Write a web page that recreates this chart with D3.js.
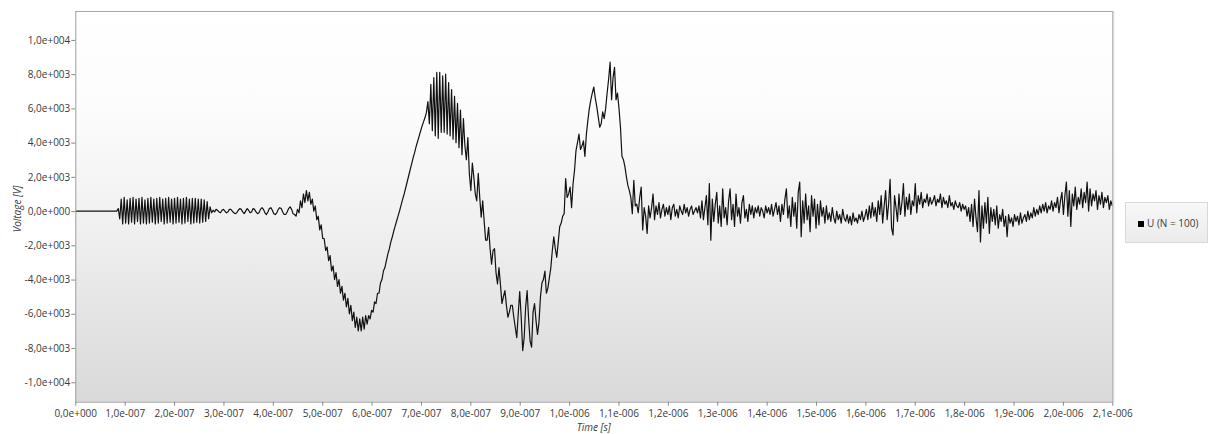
<!DOCTYPE html>
<html><head><meta charset="utf-8">
<script src="https://cdn.jsdelivr.net/npm/d3@7"></script>
<style>
body{margin:0;background:#fff;}
svg{display:block;}
text{font-family:"Open Sans",sans-serif;}
</style>
</head><body>
<svg id="chart" width="1210" height="434"></svg>
<script>
// ---- data ----
const timeStep = 3e-9;          // seconds between samples
const seriesName = "U (N = 100)";
const xTickValues = [0,1e-7,2e-7,3e-7,4e-7,5e-7,6e-7,7e-7,8e-7,9e-7,1e-6,1.1e-6,1.2e-6,1.3e-6,1.4e-6,1.5e-6,1.6e-6,1.7e-6,1.8e-6,1.9e-6,2e-6,2.1e-6];
const yTickValues = [-1e4,-8e3,-6e3,-4e3,-2e3,0,2e3,4e3,6e3,8e3,1e4];
const voltage = [
// 0-28 flat
0,0,0,0,0,0,0,0,0,0,0,0,0,0,0,0,0,0,0,0,0,0,0,0,0,0,0,0,0,
// 29-91 burst
150,-450,700,-750,800,-700,650,-750,750,-650,
800,-750,700,-600,750,-750,800,-700,650,-750,
750,-700,800,-650,700,-750,750,-700,800,-600,
700,-750,750,-700,800,-650,700,-750,750,-700,
800,-650,700,-750,750,-700,800,-600,700,-750,
750,-700,750,-650,700,-700,700,-650,650,-600,
550,-450,250,
// 92-147 small wiggle
-100,50,-50,100,50,-50,-100,50,100,0,
-100,-50,100,100,0,-100,-150,-100,50,150,
100,-50,-150,0,150,50,-100,-50,150,100,
-50,-150,-100,100,200,100,-100,-200,-50,150,
200,50,-150,-200,-100,100,200,150,-50,-200,
-200,-50,150,250,100,-150,
// 148-236 bump, first trough, rise
-200,-300,100,-100,600,200,1000,500,1200,600,
1100,400,700,0,300,-500,-300,-1100,-800,-1600,
-1600,-2300,-2100,-2900,-2600,-3500,-3200,-4000,-3600,-4400,
-4000,-4800,-4400,-5200,-4800,-5600,-5100,-6000,-5500,-6400,
-5900,-6800,-6200,-7000,-6300,-7000,-6200,-6900,-6100,-6600,
-6100,-6300,-5800,-5900,-5300,-5400,-4800,-4800,-4200,-4000,
-3500,-3300,-2900,-2500,-2200,-1800,-1500,-1150,-850,-550,
-250,50,380,700,1000,1350,1700,2050,2400,2750,
3100,3400,3750,4050,4350,4650,4950,5200,5450,
// 237-258 first peak
5750,6400,5100,7400,4700,7800,4400,8100,4250,8100,
4600,7900,4600,8000,4500,7500,4400,7100,4200,6700,
4000,6300,
// 259-330 descent, second trough, rise
3700,5900,3300,5400,3800,3000,4300,2200,1200,2800,
2000,1000,600,2200,800,-350,600,-600,-1700,-1700,
-950,-2200,-3100,-2300,-2200,-3600,-4250,-3300,-4300,-5400,
-5000,-4650,-5500,-6200,-5900,-5500,-5500,-6200,-6800,-7400,
-6000,-4700,-6200,-8150,-7400,-5600,-4650,-6300,-7600,-7950,
-5900,-5400,-6400,-7200,-6500,-5000,-4200,-4000,-3500,-4800,
-4500,-3900,-3300,-2300,-1500,-2200,-2700,-1800,-900,-700,
-300,-150,
// 331-377 second peak and drop
1900,800,1000,1400,200,1600,2400,3550,4000,4500,
3600,3800,4100,3200,4500,5300,6000,6500,6900,7250,
6600,6100,5500,4900,5100,5800,5400,6000,6900,7700,
8700,6500,7800,8400,6500,6900,6000,4900,3200,3000,
2600,2000,1500,1200,800,-150,1800,
// 378-700 tail noise
300,400,-100,800,1400,-1100,200,-300,-1300,300,-400,200,1000,-500,300,-200,500,-400,100,400,-300,200,
-200,300,-500,200,400,-300,100,-400,300,0,-200,400,-100,200,-300,100,300,-200,0,200,-100,
300,-400,600,-500,200,900,-800,1600,-1700,700,-600,400,1100,-700,300,-900,1300,-400,200,-800,
600,1300,-500,400,-900,1000,-300,200,-700,500,900,-400,100,-600,400,-200,300,-400,200,-100,
300,-300,200,0,-400,300,-100,200,-200,400,-300,100,500,-200,300,-600,400,-200,700,1300,
-400,300,-900,800,-300,500,-1000,1100,1700,-1500,600,-700,1000,-500,300,-1200,900,-300,700,-1000,
400,-800,600,-300,200,-700,300,-500,-100,-600,200,-400,-700,0,-500,-200,-700,100,-400,-600,
-200,-700,-300,-800,-100,-600,-400,-700,-200,-500,0,-600,-300,100,-500,300,-400,500,-300,200,
-600,600,-200,900,-700,300,1200,-500,400,1850,-1000,-1400,900,200,-600,1000,-200,500,1600,-300,
800,100,1000,-200,600,300,1600,-100,900,400,1100,200,700,500,1000,300,800,400,600,900,
300,700,500,1000,200,800,400,600,200,900,300,500,100,600,300,200,500,0,400,100,
300,-300,200,-600,400,-900,700,-400,-1200,1200,-1800,300,-1000,500,-700,800,-1300,200,-600,100,
-800,300,-1000,-200,-600,100,-900,-300,-1500,-200,-700,-400,-900,-200,-600,-300,-800,-100,-700,-400,
-200,-600,0,-500,-100,-400,200,-300,100,-200,300,-100,400,0,500,-100,300,100,600,0,
500,200,800,-100,600,1100,-200,900,1700,-300,1200,-900,1000,300,1400,100,800,400,1300,200,
1100,500,1700,0,1300,300,1000,600,1200,100,900,400,1100,200,800,500,900,100,600,300
];

// ---- chart ----
const svg = d3.select("#chart");
const plot = {left:75.3, right:1112.3, top:11, bottom:401.7};

const x = d3.scaleLinear().domain([0, 2.1e-6]).range([plot.left, plot.right]);
const y = d3.scaleLinear().domain([-11136, 11690]).range([plot.bottom, plot.top]);

function sci(v){
  if (Math.abs(v) < 1e-20) return "0,0e+000";
  const s = v.toExponential(1);
  const [m, e] = s.split("e");
  const en = parseInt(e, 10);
  return m.replace(".", ",") + "e" + (en < 0 ? "-" : "+") + String(Math.abs(en)).padStart(3, "0");
}

const defs = svg.append("defs");
const bg = defs.append("linearGradient").attr("id","bg").attr("x1",0).attr("y1",0).attr("x2",0).attr("y2",1);
bg.append("stop").attr("offset","0%").attr("stop-color","#ffffff");
bg.append("stop").attr("offset","25%").attr("stop-color","#fcfcfc");
bg.append("stop").attr("offset","55%").attr("stop-color","#f0f0f0");
bg.append("stop").attr("offset","100%").attr("stop-color","#d9d9d9");
const lg = defs.append("linearGradient").attr("id","lg").attr("x1",0).attr("y1",0).attr("x2",0).attr("y2",1);
lg.append("stop").attr("offset","0%").attr("stop-color","#f8f8f8");
lg.append("stop").attr("offset","100%").attr("stop-color","#ebebeb");
defs.append("clipPath").attr("id","clip").append("rect")
  .attr("x",plot.left).attr("y",plot.top).attr("width",plot.right-plot.left).attr("height",plot.bottom-plot.top);

// plot background
svg.append("rect")
  .attr("x",plot.left).attr("y",plot.top)
  .attr("width",plot.right-plot.left).attr("height",plot.bottom-plot.top)
  .attr("fill","url(#bg)");
// borders
svg.append("line").attr("x1",plot.left).attr("x2",plot.right).attr("y1",plot.top+0.5).attr("y2",plot.top+0.5).attr("stroke","#a8a8a8");
svg.append("line").attr("x1",plot.right+0.5).attr("x2",plot.right+0.5).attr("y1",plot.top).attr("y2",plot.bottom).attr("stroke","#a0a0a0");
svg.append("line").attr("x1",plot.right+1.5).attr("x2",plot.right+1.5).attr("y1",plot.top).attr("y2",plot.bottom).attr("stroke","#d6d6d6");

// data line
const data = voltage.map((v,i)=>({t:i*timeStep, v:v}));
const line = d3.line().x(d=>x(d.t)).y(d=>y(d.v));
svg.append("path").datum(data)
  .attr("clip-path","url(#clip)")
  .attr("fill","none").attr("stroke","#111111").attr("stroke-width",1.2)
  .attr("stroke-linejoin","round")
  .attr("d",line);

// axes
const xAxis = svg.append("g").attr("transform",`translate(0,${plot.bottom})`)
  .call(d3.axisBottom(x).tickValues(xTickValues).tickFormat(sci).tickSize(4).tickPadding(4).tickSizeOuter(0));
const yAxis = svg.append("g").attr("transform",`translate(${plot.left},0)`)
  .call(d3.axisLeft(y).tickValues(yTickValues).tickFormat(sci).tickSize(4).tickPadding(1).tickSizeOuter(0));
[xAxis,yAxis].forEach(g=>{
  g.select(".domain").attr("stroke","#a0a0a0");
  g.selectAll(".tick line").attr("stroke","#8a8a8a");
  g.selectAll(".tick text").attr("fill","#3a3a3a").style("font-size","10px").style("font-family","'Open Sans',sans-serif");
});

// axis titles
svg.append("text").attr("x",(plot.left+plot.right)/2).attr("y",428)
  .attr("text-anchor","middle").attr("dominant-baseline","middle")
  .style("font-size","10px").style("font-style","italic").attr("fill","#3a3a3a").text("Time [s]");
svg.append("text").attr("transform","translate(18,209) rotate(-90)")
  .attr("text-anchor","middle").attr("dominant-baseline","middle")
  .style("font-size","10px").style("font-style","italic").attr("fill","#3a3a3a").text("Voltage [V]");

// legend
const leg = svg.append("g");
leg.append("rect").attr("x",1125.5).attr("y",202.5).attr("width",82).attr("height",40)
  .attr("fill","url(#lg)").attr("stroke","#d8d8d8");
leg.append("rect").attr("x",1138).attr("y",221).attr("width",6).attr("height",6).attr("fill","#000");
leg.append("text").attr("x",1147).attr("y",224.5).attr("dominant-baseline","middle")
  .style("font-size","10px").attr("fill","#3a3a3a").text(seriesName);
</script>
</body></html>
